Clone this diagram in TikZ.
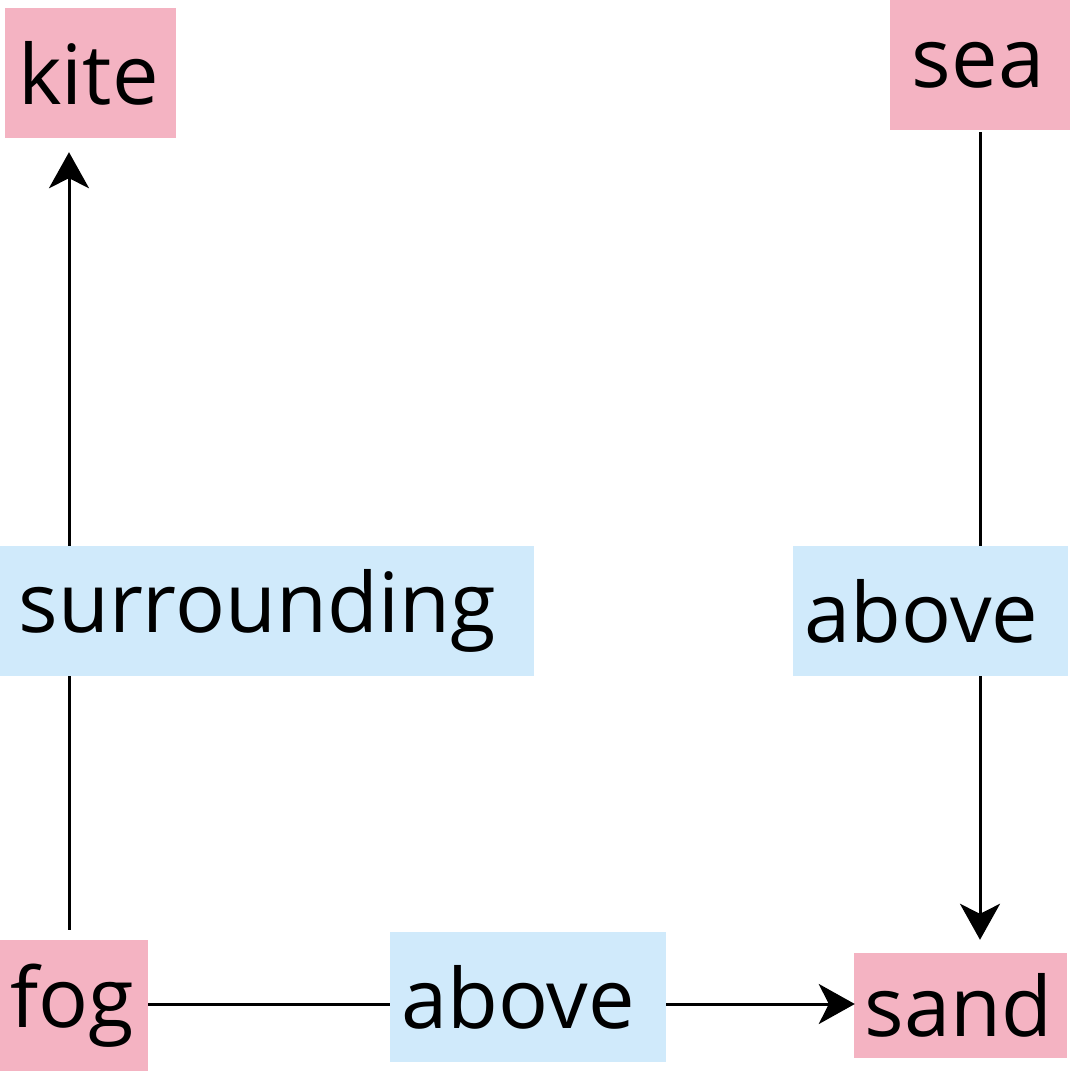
\documentclass[tikz,border=0pt]{standalone}
\usepackage{fontspec}
\setmainfont{Open Sans}
\usetikzlibrary{arrows.meta,calc}
\definecolor{pinkbox}{HTML}{F4B3C2}
\definecolor{bluebox}{HTML}{D0EAFB}
\begin{document}
\begin{tikzpicture}[x=1pt,y=1pt,
  txt/.style={font=\fontsize{83}{100}\selectfont, inner sep=0pt, anchor=center},
  ent/.style={txt, fill=pinkbox},
  rel/.style={txt, fill=bluebox},
  arr/.style={line width=3pt, -{Stealth[length=36pt,width=40pt,inset=10pt]}}]
\useasboundingbox (0,0) rectangle (1070,-1071);
% entity nodes
\node[ent, minimum width=171, minimum height=130] (kite) at (90.5,-73) {kite\kern4pt};
\node[ent, minimum width=180, minimum height=130] (sea) at (980,-65) {sea\kern4pt};
\node[ent, minimum width=148, minimum height=131] (fog) at (74,-1005.5) {fog\kern4pt};
\node[ent, minimum width=213, minimum height=105] (sand) at (960.5,-1005.5) {sand\kern4pt};
% edges
\draw[arr] ($(fog.north)+(-5,10)$) -- ($(fog.north |- kite.south)+(-5,-14)$);
\draw[arr] ($(sea.south)+(0,-2)$) -- ($(sea.south |- sand.north)+(0,13)$);
\draw[arr] (fog.east |- 0,-1004) -- ($(sand.west |- 0,-1004)+(1,0)$);
% relation labels
\node[rel, minimum width=534, minimum height=130] (surr) at (267,-611) {surrounding\kern20pt};
\node[rel, minimum width=275, minimum height=130] (abv1) at (930.5,-611) {above\kern18pt};
\node[rel, minimum width=276, minimum height=130] (abv2) at (528,-997) {above\kern20pt};
\end{tikzpicture}
\end{document}
